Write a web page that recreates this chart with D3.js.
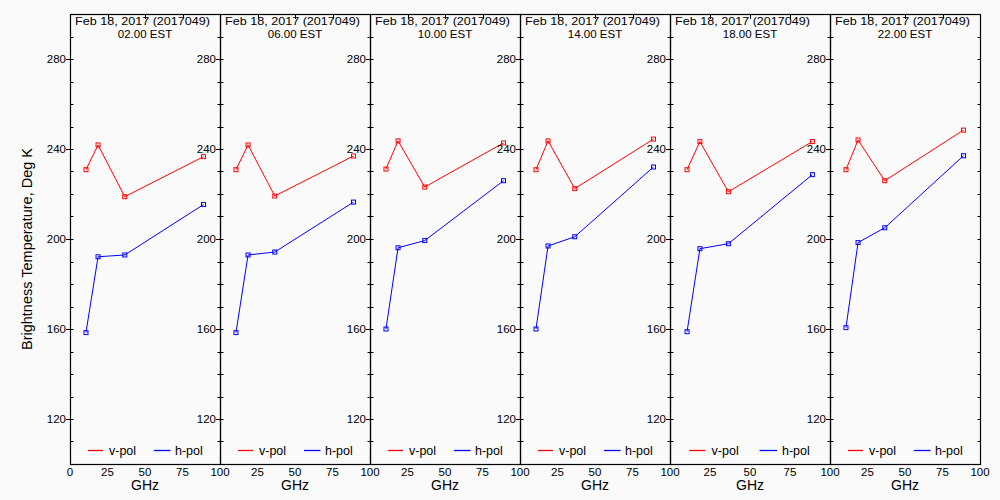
<!DOCTYPE html>
<html>
<head>
<meta charset="utf-8">
<script src="https://cdn.jsdelivr.net/npm/d3@7"></script>
<style>
  html, body { margin: 0; padding: 0; background: #fafafa; }
  svg { display: block; }
  text { font-family: "Liberation Sans", Arial, sans-serif; fill: #000; }
</style>
</head>
<body>
<svg id="chart" width="1000" height="500"></svg>
<script>
// ---- data ----
const frequencies = [10.65, 18.7, 36.5, 89.0];          // GHz
const panelTimes = ["02.00 EST", "06.00 EST", "10.00 EST", "14.00 EST", "18.00 EST", "22.00 EST"];
const dateLabel = "Feb 18, 2017 (2017049)";
const vPol = [
  [230.8, 241.8, 218.8, 236.6],
  [230.8, 241.8, 219.1, 236.9],
  [231.1, 243.6, 223.1, 242.7],
  [230.8, 243.6, 222.4, 244.4],
  [230.8, 243.3, 221.0, 243.3],
  [230.8, 244.0, 225.9, 248.4]
];
const hPol = [
  [158.4, 192.1, 192.9, 215.3],
  [158.4, 192.9, 194.2, 216.4],
  [160.0, 196.1, 199.3, 225.9],
  [160.0, 196.9, 201.0, 232.0],
  [158.8, 195.7, 197.9, 228.6],
  [160.6, 198.4, 205.0, 237.0]
];
const yTickValues = [120, 160, 200, 240, 280];
const xTickValues = [0, 25, 50, 75, 100];
const seriesNames = ["v-pol", "h-pol"];
const seriesColors = ["#ff0000", "#0000ff"];

// ---- layout ----
const svg = d3.select("#chart");
const plotTop = 14, plotBottom = 464;
const edges = [70, 220, 370, 520, 670, 830, 980];

const y = d3.scaleLinear().domain([100, 300]).range([plotBottom, plotTop]);
const minorY = d3.range(110, 300, 10);

svg.append("rect").attr("width", 1000).attr("height", 500).attr("fill", "#fafafa");

panelTimes.forEach((t, i) => {
  const x0 = edges[i], x1 = edges[i + 1];
  const w = x1 - x0;
  const x = d3.scaleLinear().domain([0, 100]).range([x0, x1]);
  const g = svg.append("g");

  // frame
  g.append("rect").attr("x", x0 + 0.5).attr("y", plotTop + 0.5).attr("width", w).attr("height", plotBottom - plotTop)
    .attr("fill", "none").attr("stroke", "#000").attr("stroke-width", 1.2);

  // y ticks
  minorY.forEach(v => {
    const yy = Math.round(y(v)) + 0.5;
    const isMajor = yTickValues.includes(v);
    g.append("line").attr("x1", x0 - (isMajor ? 4 : 0)).attr("x2", x0 + 3.5)
      .attr("y1", yy).attr("y2", yy).attr("stroke", "#000");
    g.append("line").attr("x1", x1 - 2.5).attr("x2", x1 + 0.5)
      .attr("y1", yy).attr("y2", yy).attr("stroke", "#000");
  });
  // y tick labels at left edge
  g.selectAll(".ylab").data(yTickValues).join("text")
    .attr("x", x0 - 4).attr("y", d => y(d) + 4)
    .attr("text-anchor", "end").attr("font-size", 11.5)
    .text(d => d);

  // x ticks on top, pointing down
  [25, 50, 75].forEach(v => {
    const xx = Math.round(x(v)) + 0.5;
    g.append("line").attr("x1", xx).attr("x2", xx).attr("y1", plotTop).attr("y2", plotTop + 5).attr("stroke", "#000");
  });
  // x tick labels
  const labs = i === 0 ? xTickValues : xTickValues.slice(1);
  g.selectAll(".xlab").data(labs).join("text")
    .attr("x", d => x(d)).attr("y", 476)
    .attr("text-anchor", "middle").attr("font-size", 11.5)
    .text(d => d);
  g.append("text").attr("x", (x0 + x1) / 2).attr("y", 490)
    .attr("text-anchor", "middle").attr("font-size", 14).text("GHz");

  // titles
  g.append("text").attr("x", x0 + 5).attr("y", 25).attr("font-size", 11.5)
    .attr("textLength", 135).attr("lengthAdjust", "spacingAndGlyphs").text(dateLabel);
  g.append("text").attr("x", (x0 + x1) / 2).attr("y", 37.5).attr("font-size", 11.5)
    .attr("text-anchor", "middle").text(t);

  // series
  [vPol[i], hPol[i]].forEach((vals, s) => {
    const pts = frequencies.map((f, k) => [x(f), y(vals[k])]);
    g.append("path").attr("d", d3.line()(pts)).attr("fill", "none")
      .attr("stroke", seriesColors[s]).attr("stroke-width", 1);
    g.selectAll(".m" + s).data(pts).join("rect")
      .attr("x", d => d[0] - 2).attr("y", d => d[1] - 2)
      .attr("width", 4).attr("height", 4)
      .attr("fill", "none").attr("stroke", seriesColors[s]).attr("stroke-width", 1);
  });

  // legend
  const legY = 450.5;
  const legPos = [[0.12, 0.22, 0.26], [0.56, 0.67, 0.70]];
  seriesNames.forEach((n, s) => {
    g.append("line").attr("x1", x0 + w * legPos[s][0]).attr("x2", x0 + w * legPos[s][1])
      .attr("y1", legY).attr("y2", legY).attr("stroke", seriesColors[s]).attr("stroke-width", 1.3);
    g.append("text").attr("x", x0 + w * legPos[s][2]).attr("y", legY + 4)
      .attr("font-size", 12.5).text(n);
  });
});

// y axis title
svg.append("text")
  .attr("transform", "translate(32,249) rotate(-90)")
  .attr("text-anchor", "middle").attr("font-size", 14.5)
  .text("Brightness Temperature, Deg K");
</script>
</body>
</html>
